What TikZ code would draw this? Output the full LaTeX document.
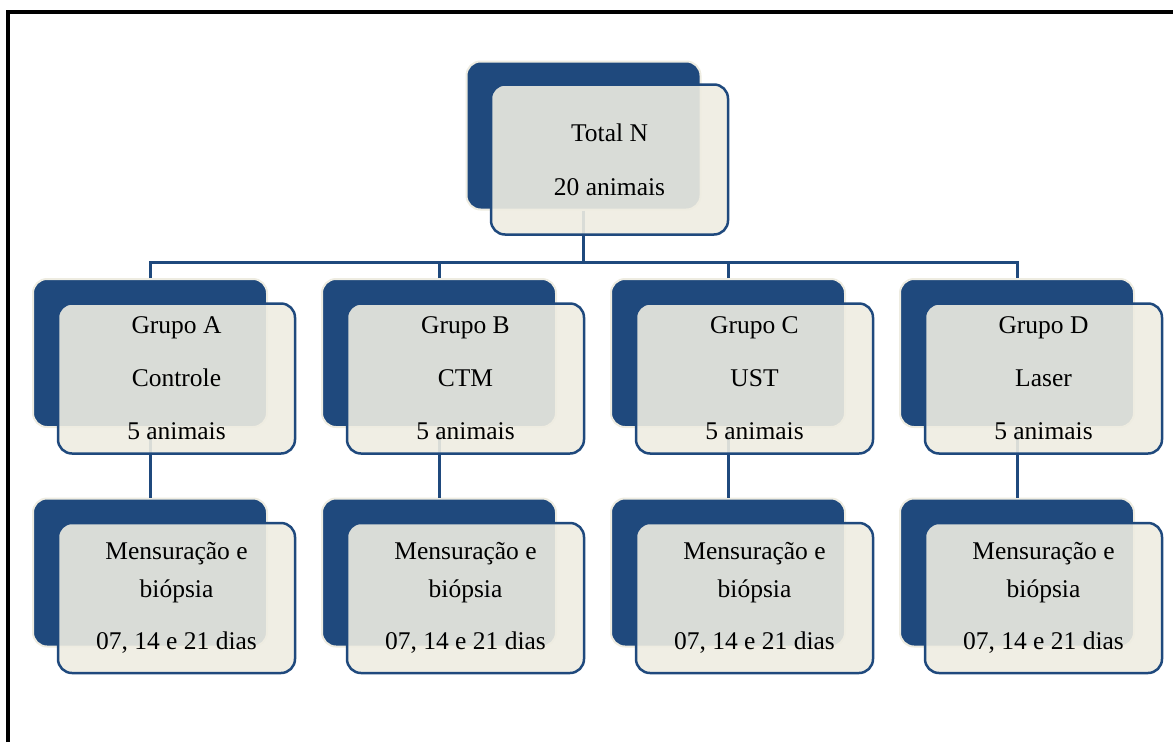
\documentclass[tikz,border=0pt]{standalone}
\usepackage{fontspec}
\setmainfont{Liberation Serif}
\usetikzlibrary{positioning}
\definecolor{darkblue}{HTML}{1F497D}
\definecolor{paper}{HTML}{EEECE1}
\tikzset{x=1pt, y=1pt, % one unit is one pixel of the layout
back/.style={draw=paper, line width=2pt, fill=darkblue, rounded corners=14pt,
  minimum width=234pt, minimum height=148pt, inner sep=0pt}, % dark box behind
front/.style={draw=darkblue, line width=2.5pt, fill=paper, fill opacity=0.9, text opacity=1,
  rounded corners=14pt, minimum width=237pt, minimum height=150pt, inner sep=0pt,
  align=center, font=\fontsize{25.5}{30}\selectfont}, % light box in front, holds the text
link/.style={draw=darkblue, line width=3pt},
node distance=289pt % distance between the groups
}

\begin{document}
\begin{tikzpicture}
\useasboundingbox (0,0) rectangle (1173,-742);
\draw[line width=4pt] (8,-742) -- (8,-12) -- (1173,-12);

% dark boxes
\node[back] (bT) at (583.5,-135.5) {};
\node[back] (bA) at (150,-353) {};
\node[back, right of=bA] (bB) {};
\node[back, right of=bB] (bC) {};
\node[back, right of=bC] (bD) {};
\node[back, below of=bA, node distance=219.5pt] (mA) {};
\node[back, below of=bB, node distance=219.5pt] (mB) {};
\node[back, below of=bC, node distance=219.5pt] (mC) {};
\node[back, below of=bD, node distance=219.5pt] (mD) {};

% connectors
\coordinate (bus) at (583.5,-262);
\draw[link] (bT.south) -- (bus);
\draw[link] (bA.north) |- (bus) -| (bD.north);
\draw[link] (bB.north) -- (bB.north |- bus);
\draw[link] (bC.north) -- (bC.north |- bus);
\draw[link] (bA.south) -- (mA.north);
\draw[link] (bB.south) -- (mB.north);
\draw[link] (bC.south) -- (mC.north);
\draw[link] (bD.south) -- (mD.north);

% light boxes
\node[front] (fT) at ([shift={(26,-24)}]bT) {Total N\\[24pt]20 animais};
\node[front] (fA) at ([shift={(26.5,-25.5)}]bA) {Grupo A\\[23pt]Controle\\[23pt]5 animais};
\node[front] (fB) at ([shift={(26.5,-25.5)}]bB) {Grupo B\\[23pt]CTM\\[23pt]5 animais};
\node[front] (fC) at ([shift={(26.5,-25.5)}]bC) {Grupo C\\[23pt]UST\\[23pt]5 animais};
\node[front] (fD) at ([shift={(26.5,-25.5)}]bD) {Grupo D\\[23pt]Laser\\[23pt]5 animais};
\node[front] (gA) at ([shift={(26.5,-25.5)}]mA) {Mensuração e\\[8pt]biópsia\\[22pt]07, 14 e 21 dias};
\node[front] (gB) at ([shift={(26.5,-25.5)}]mB) {Mensuração e\\[8pt]biópsia\\[22pt]07, 14 e 21 dias};
\node[front] (gC) at ([shift={(26.5,-25.5)}]mC) {Mensuração e\\[8pt]biópsia\\[22pt]07, 14 e 21 dias};
\node[front] (gD) at ([shift={(26.5,-25.5)}]mD) {Mensuração e\\[8pt]biópsia\\[22pt]07, 14 e 21 dias};
\end{tikzpicture}
\end{document}
